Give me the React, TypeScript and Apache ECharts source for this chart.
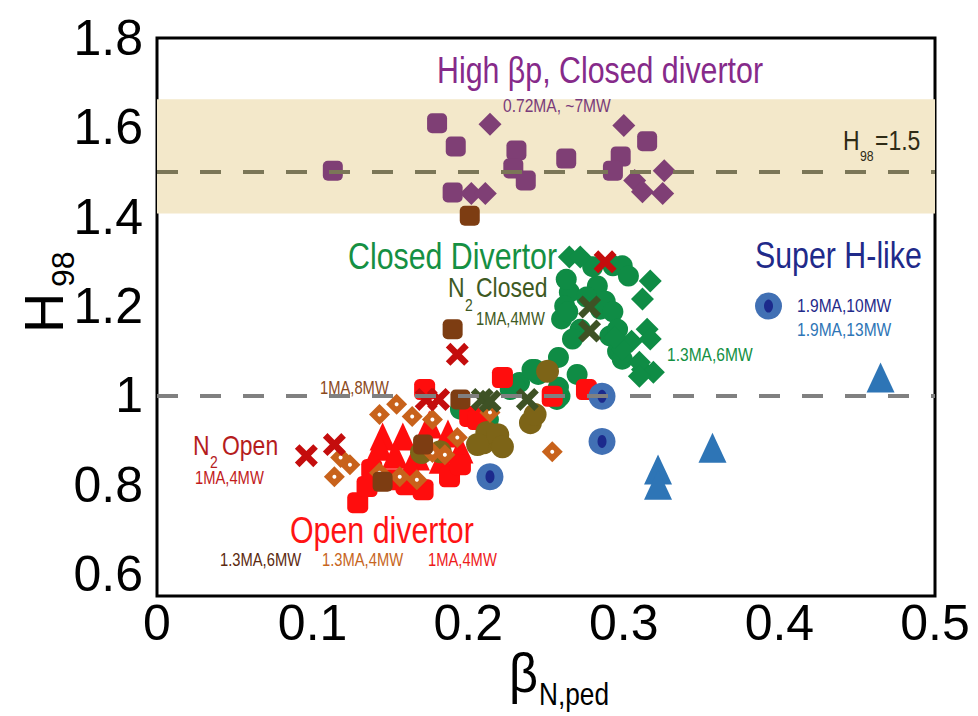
import React, { useEffect, useRef } from "react";
import * as echarts from "echarts";

// Axis ranges and tick labels
const xTicks = [0, 0.1, 0.2, 0.3, 0.4, 0.5];
const yTicks = [0.6, 0.8, 1, 1.2, 1.4, 1.6, 1.8];
const yMin = 0.551;
const yMax = 1.8;

// Reference levels
const h98Band = [1.407, 1.663];
const h98High = 1.5;
const h98Unity = 1.0;

// High beta_p, closed divertor (0.72MA, ~7MW)
const highBpSquares = [
  [0.113, 1.503], [0.18, 1.609], [0.192, 1.557], [0.19, 1.454], [0.231, 1.548],
  [0.229, 1.508], [0.237, 1.481], [0.263, 1.53], [0.298, 1.535], [0.293, 1.503],
  [0.315, 1.569],
];
const highBpDiamonds = [
  [0.214, 1.607], [0.202, 1.452], [0.211, 1.452], [0.3, 1.604], [0.307, 1.481],
  [0.312, 1.456], [0.326, 1.503], [0.325, 1.452],
];

// Closed divertor, 1.3MA, 6MW
const closedCircles = [
  [0.265, 1.231], [0.262, 1.2], [0.26, 1.171], [0.272, 1.148], [0.267, 1.126],
  [0.283, 1.245], [0.285, 1.193], [0.291, 1.133], [0.293, 1.29], [0.299, 1.11],
  [0.258, 1.085], [0.243, 1.058], [0.233, 1.029], [0.227, 1.013], [0.27, 1.047],
  [0.258, 1.018], [0.259, 0.998], [0.245, 1.047], [0.195, 0.969], [0.213, 0.946],
  [0.28, 1.288], [0.299, 1.29], [0.303, 1.267], [0.288, 1.211], [0.293, 1.187],
  [0.296, 1.148], [0.296, 1.099], [0.299, 1.081], [0.241, 1.058], [0.23, 1.02],
  [0.257, 0.991], [0.211, 0.939], [0.264, 1.187], [0.276, 1.22], [0.263, 1.26],
];
const closedDiamonds = [
  [0.265, 1.31], [0.272, 1.31], [0.317, 1.256], [0.312, 1.216], [0.315, 1.148],
  [0.305, 1.121], [0.317, 1.126], [0.312, 1.058], [0.319, 1.052], [0.299, 1.103],
  [0.294, 1.13], [0.31, 1.074], [0.31, 1.043],
];

// Open divertor, 1MA, 4MW
const openSquares = [
  [0.129, 0.76], [0.135, 0.796], [0.171, 0.789], [0.188, 0.818], [0.195, 0.845],
  [0.201, 0.953], [0.172, 1.013], [0.222, 1.04], [0.206, 0.946], [0.254, 0.998],
  [0.276, 1.013], [0.151, 0.811], [0.138, 0.834], [0.16, 0.8],
];
const openTriangles = [
  [0.145, 0.908], [0.143, 0.885], [0.158, 0.908], [0.153, 0.867], [0.167, 0.863],
  [0.195, 0.879], [0.163, 0.84], [0.183, 0.856], [0.175, 0.935], [0.187, 0.915],
];

// 1MA, 8MW
const mw8Circles = [
  [0.17, 0.872], [0.182, 0.874], [0.21, 0.894], [0.212, 0.917], [0.219, 0.912],
  [0.222, 0.885], [0.206, 0.89], [0.24, 0.939], [0.243, 0.957], [0.251, 1.054],
];

// 1.3MA, 4MW
const ma13mw4Diamonds = [
  [0.143, 0.957], [0.154, 0.98], [0.164, 0.953], [0.177, 0.946], [0.193, 0.906],
  [0.114, 0.818], [0.124, 0.845], [0.118, 0.861], [0.143, 0.827], [0.156, 0.818],
  [0.167, 0.811], [0.177, 0.872], [0.214, 0.962], [0.254, 0.874], [0.185, 0.867],
];

// 1.3MA, 6MW (open)
const ma13mw6Squares = [
  [0.201, 1.402], [0.19, 1.148], [0.195, 0.991], [0.171, 0.89], [0.145, 0.807],
];

// N2 seeded
const n2OpenCrosses = [
  [0.096, 0.865], [0.114, 0.89], [0.173, 0.991], [0.181, 0.991], [0.193, 1.092],
  [0.288, 1.299],
];
const n2ClosedCrosses = [
  [0.209, 0.991], [0.214, 0.987], [0.238, 0.991], [0.278, 1.198], [0.278, 1.144],
];

// Super H-like
const superHCircles = [[0.286, 0.998], [0.286, 0.897], [0.214, 0.818]];
const superHKey = [[0.393, 1.2]];
const superHTriangles = [[0.465, 1.04], [0.357, 0.883], [0.322, 0.834], [0.322, 0.8]];

const FONT = '"Liberation Sans", Arial, sans-serif';
const NARROW = 0.82; // horizontal squeeze for a condensed look
const CROSS = "path://M0,4L4,0L10,6L16,0L20,4L14,10L20,16L16,20L10,14L4,20L0,16L6,10Z";

function pts(
  data: number[][],
  symbol: string,
  size: number | number[],
  color: string
) {
  return {
    type: "scatter",
    data,
    symbol,
    symbolSize: size,
    silent: true,
    itemStyle: { color, opacity: 1 },
  };
}

function label(
  text: string,
  x: number,
  y: number,
  size: number,
  color: string,
  extra: Record<string, unknown> = {}
) {
  return {
    type: "text",
    x,
    y,
    silent: true,
    z: 100,
    scaleX: NARROW,
    ...extra,
    style: {
      text,
      x: 0,
      y: 0,
      fill: color,
      fontSize: size,
      fontFamily: FONT,
      align: "left",
      verticalAlign: "middle",
      textAlign: "left",
      textVerticalAlign: "middle",
    },
  };
}

export default function App() {
  const ref = useRef<HTMLDivElement>(null);

  useEffect(() => {
    if (!ref.current) return;
    const chart = echarts.init(ref.current, null, { renderer: "svg" });

    const tickLabel = {
      fontSize: 50,
      fontFamily: FONT,
      color: "#000",
      showMinLabel: true,
      showMaxLabel: true,
      formatter: (v: number) => String(Math.round(v * 10) / 10),
    };

    const option = {
      animation: false,
      backgroundColor: "#ffffff",
      grid: {
        left: 157,
        right: 43,
        top: 38,
        bottom: 120,
        show: true,
        borderColor: "#000",
        borderWidth: 3,
        backgroundColor: "transparent",
      },
      xAxis: {
        type: "value",
        min: xTicks[0],
        max: xTicks[xTicks.length - 1],
        interval: 0.1,
        axisLine: { show: false },
        axisTick: { show: false },
        splitLine: { show: false },
        axisLabel: { ...tickLabel, margin: 2 },
      },
      yAxis: {
        type: "value",
        min: yMin,
        max: yMax,
        axisLine: { show: false },
        axisTick: { show: false },
        splitLine: { show: false },
        axisLabel: { ...tickLabel, customValues: yTicks, margin: 14 },
      },
      series: [
        {
          type: "scatter",
          data: [],
          silent: true,
          markArea: {
            silent: true,
            itemStyle: { color: "#f3e8ca" },
            data: [[{ yAxis: h98Band[0] }, { yAxis: h98Band[1] }]],
          },
          markLine: {
            silent: true,
            symbol: ["none", "none"],
            label: { show: false },
            data: [
              { yAxis: h98High, lineStyle: { color: "#7b7657", width: 4, type: [21, 22] } },
              { yAxis: h98Unity, lineStyle: { color: "#808080", width: 4, type: [21, 22] } },
            ],
          },
        },
        pts(highBpSquares, "roundRect", 20, "#7f3f75"),
        pts(highBpDiamonds, "diamond", 23, "#7f3f75"),
        pts(closedCircles, "circle", 21, "#0f8c45"),
        pts(closedDiamonds, "diamond", 23, "#0f8c45"),
        pts(openTriangles, "triangle", [26, 28], "#ff0d0d"),
        pts(openSquares, "roundRect", 21, "#ff0d0d"),
        pts(mw8Circles, "circle", 23, "#7d6417"),
        pts(ma13mw4Diamonds, "diamond", 21, "#c8621b"),
        pts(ma13mw4Diamonds, "circle", 4, "#ffffff"),
        pts(ma13mw6Squares, "roundRect", 20, "#7d3d12"),
        pts(superHCircles, "circle", 27, "#4170b4"),
        pts(superHCircles, "circle", [9, 13], "#1c2a8c"),
        pts(superHKey, "circle", 27, "#4170b4"),
        pts(superHKey, "circle", [9, 13], "#1c2a8c"),
        pts(superHTriangles, "triangle", [28, 30], "#2e75b6"),
        pts(n2OpenCrosses, CROSS, 23, "#c40d0d"),
        pts(n2ClosedCrosses, CROSS, 23, "#3e5225"),
      ],
      graphic: [
        // axis titles
        label("H", 43, 333, 56, "#000", { rotation: Math.PI / 2, scaleX: 1 }),
        label("98", 63, 287, 32, "#000", { rotation: Math.PI / 2, scaleX: 1 }),
        label("β", 509, 673, 56, "#000", { scaleX: 0.9 }),
        label("N,ped", 539, 694, 32, "#000"),
        // group annotations
        label("High βp, Closed divertor", 437, 70, 37, "#862a8a"),
        label("0.72MA, ~7MW", 503, 105, 19, "#7a3b7a"),
        label("H", 843, 140, 28, "#2e2b16"),
        label("98", 860, 156, 15, "#2e2b16"),
        label("=1.5", 875, 140, 28, "#2e2b16"),
        label("Super H-like", 755, 255, 37, "#1f2a8a"),
        label("1.9MA,10MW", 797, 305, 19, "#1f2a8a"),
        label("1.9MA,13MW", 797, 329, 19, "#2e75b6"),
        label("1.3MA,6MW", 667, 354, 19, "#149043"),
        label("Closed Divertor", 348, 256, 37, "#159043"),
        label("N", 448, 287, 28, "#3e5a23"),
        label("2", 465, 305, 17, "#3e5a23"),
        label("Closed", 476, 287, 28, "#3e5a23"),
        label("1MA,4MW", 476, 318, 18, "#3e5a23"),
        label("1MA,8MW", 320, 387, 18, "#8b4a1c"),
        label("N", 193, 445, 28, "#b51d1d"),
        label("2", 210, 462, 17, "#b51d1d"),
        label("Open", 222, 445, 28, "#b51d1d"),
        label("1MA,4MW", 195, 477, 18, "#c21b1b"),
        label("Open divertor", 290, 530, 37, "#ff1414"),
        label("1.3MA,6MW", 220, 559, 18, "#5c2a10"),
        label("1.3MA,4MW", 322, 559, 18, "#c7661e"),
        label("1MA,4MW", 428, 559, 18, "#ee1a1a"),
      ],
    };

    chart.setOption(option as any);
    return () => chart.dispose();
  }, []);

  return (
    <div
      ref={ref}
      style={{ position: "fixed", left: 0, top: 0, width: 978, height: 716, background: "#fff" }}
    />
  );
}
